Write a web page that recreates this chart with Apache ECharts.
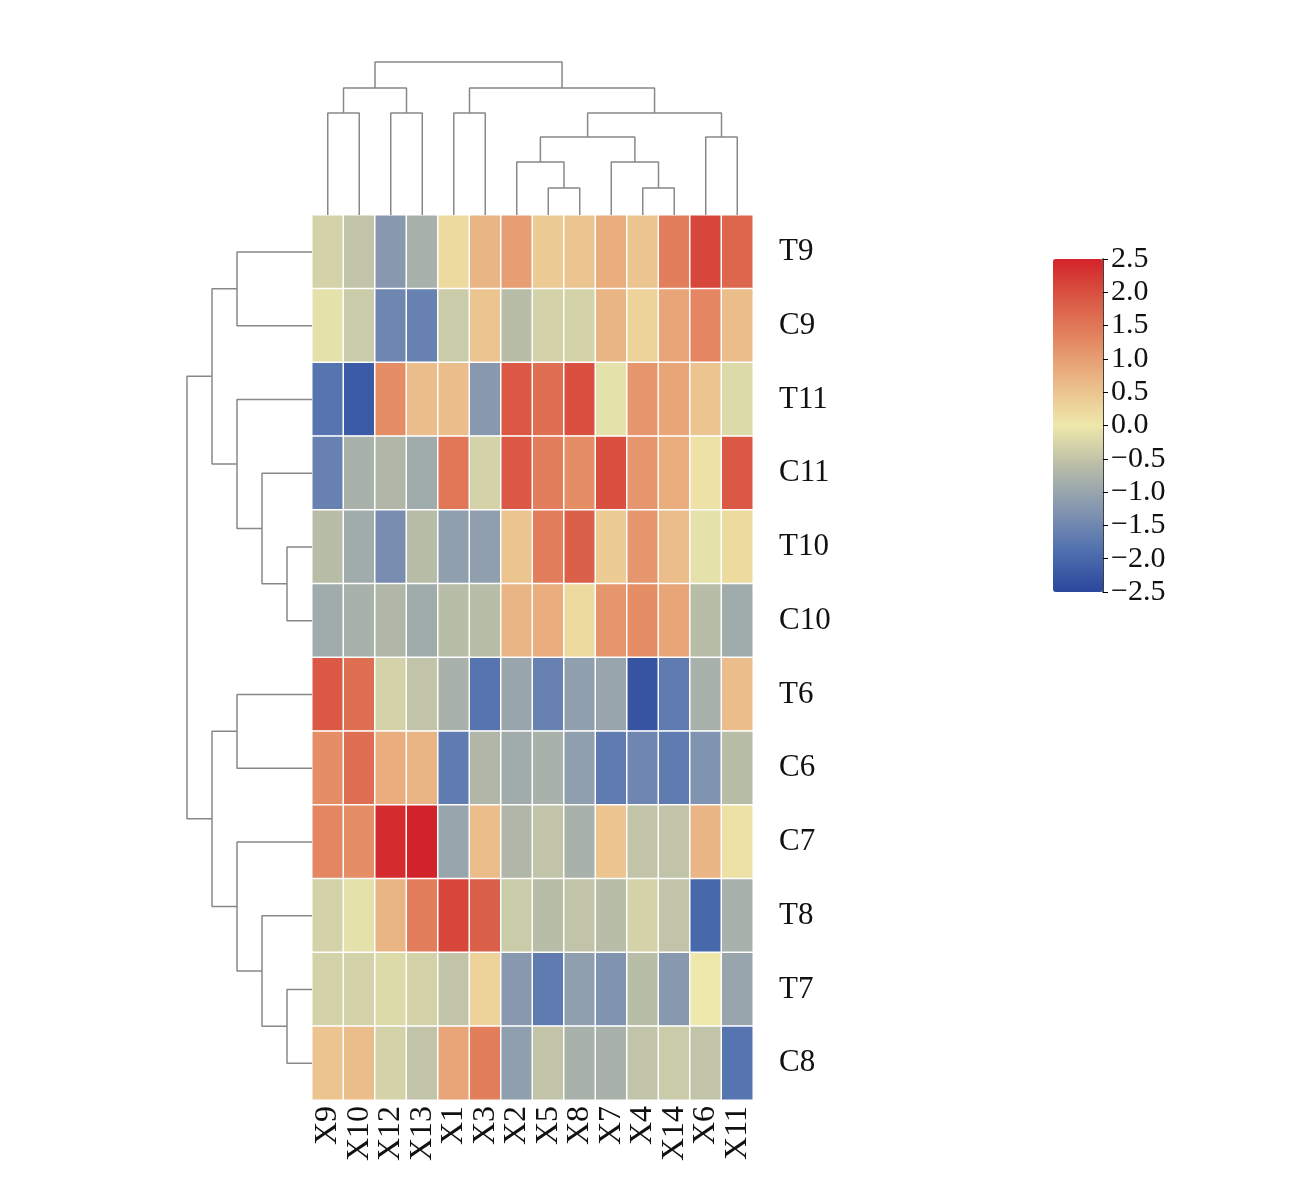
<!DOCTYPE html>
<html><head><meta charset="utf-8">
<script src="https://cdn.jsdelivr.net/npm/echarts@6/dist/echarts.min.js"></script>
<style>html,body{margin:0;background:#fff}#c{width:1316px;height:1197px}</style>
</head><body><div id="c"></div>
<script>
const cols = ['X9','X10','X12','X13','X1','X3','X2','X5','X8','X7','X4','X14','X6','X11'];
const rows = ['T9','C9','T11','C11','T10','C10','T6','C6','C7','T8','T7','C8'];
const values = [
 [-0.3,-0.5,-1.2,-0.8,0.2,0.7,1.0,0.4,0.5,0.8,0.5,1.4,2.1,1.7],
 [-0.1,-0.4,-1.5,-1.6,-0.4,0.5,-0.6,-0.3,-0.3,0.7,0.3,0.9,1.3,0.6],
 [-1.8,-2.2,1.2,0.6,0.6,-1.2,1.9,1.6,2.0,-0.1,1.1,0.9,0.5,-0.2],
 [-1.6,-0.8,-0.7,-0.9,1.5,-0.3,1.9,1.4,1.2,2.0,1.1,0.8,0.1,1.9],
 [-0.6,-0.9,-1.4,-0.6,-1.1,-1.1,0.5,1.4,1.8,0.4,1.1,0.6,-0.1,0.2],
 [-0.9,-0.8,-0.7,-0.9,-0.6,-0.6,0.7,0.8,0.2,1.1,1.2,0.9,-0.6,-0.9],
 [1.9,1.6,-0.3,-0.5,-0.8,-1.8,-1.0,-1.6,-1.1,-1.0,-2.3,-1.7,-0.8,0.6],
 [1.2,1.6,0.8,0.7,-1.7,-0.7,-0.9,-0.8,-1.1,-1.7,-1.5,-1.7,-1.3,-0.6],
 [1.3,1.2,2.4,2.5,-1.0,0.6,-0.7,-0.5,-0.8,0.5,-0.5,-0.5,0.7,0.1],
 [-0.3,-0.1,0.7,1.4,2.1,1.8,-0.4,-0.6,-0.5,-0.6,-0.3,-0.5,-2.0,-0.8],
 [-0.3,-0.3,-0.2,-0.3,-0.5,0.3,-1.2,-1.7,-1.1,-1.3,-0.6,-1.2,0.0,-1.0],
 [0.5,0.6,-0.3,-0.5,0.9,1.4,-1.1,-0.5,-0.8,-0.8,-0.5,-0.4,-0.5,-1.8]
];
const colMerges = [[0,1,102],[2,3,102],[14,15,127],[4,5,102],[7,8,27],[6,18,53],[10,11,27],[9,20,53],[19,21,78],[12,13,78],[22,23,102],[17,24,127],[16,25,153]];
const rowMerges = [[0,1,75],[4,5,25],[3,13,50],[2,14,75],[12,15,100],[6,7,75],[10,11,25],[9,18,50],[8,19,75],[17,20,100],[16,21,125]];

function dendro(n, merges){
  const pos=[], h=[];
  for(let i=0;i<n;i++){pos.push(i+0.5);h.push(0);}
  const segs=[];
  merges.forEach(([a,b,ht])=>{
    segs.push([pos[a],h[a]],[pos[a],ht],[pos[b],ht],[pos[b],h[b]],null);
    pos.push((pos[a]+pos[b])/2); h.push(ht);
  });
  return segs;
}
const topSegs = dendro(cols.length, colMerges).map(p=>p?p:[null,null]);
const leftSegs = dendro(rows.length, rowMerges).map(p=>p?[p[1],p[0]]:[null,null]);
const heat=[];
rows.forEach((r,i)=>cols.forEach((c,j)=>heat.push([j,i,values[i][j]])));
const font='Liberation Serif';
const chart=echarts.init(document.getElementById('c'));
chart.setOption({
  animation:false,
  grid:[
    {left:312,top:215,width:441,height:885},
    {left:312,top:60,width:441,height:155},
    {left:185,top:215,width:127,height:885},
    {left:1053,top:259,width:50,height:333}
  ],
  xAxis:[
    {type:'category',data:cols,gridIndex:0,position:'bottom',axisLine:{show:false},axisTick:{show:false},
     axisLabel:{interval:0,rotate:90,fontFamily:font,fontSize:32,color:'#111',margin:6}},
    {type:'value',gridIndex:1,min:0,max:14,show:false},
    {type:'value',gridIndex:2,min:0,max:127,inverse:true,show:false},
    {type:'value',gridIndex:3,min:0,max:1,show:false}
  ],
  yAxis:[
    {type:'category',data:rows,gridIndex:0,inverse:true,position:'right',axisLine:{show:false},axisTick:{show:false},
     axisLabel:{fontFamily:font,fontSize:31,color:'#111',margin:26}},
    {type:'value',gridIndex:1,min:0,max:155,show:false},
    {type:'value',gridIndex:2,min:0,max:12,inverse:true,show:false},
    {type:'value',gridIndex:3,min:-2.5,max:2.5,interval:0.5,position:'right',splitLine:{show:false},
     axisLine:{show:true,onZero:false,lineStyle:{color:'#000',width:1.5}},axisTick:{show:true,length:5,lineStyle:{color:'#000'}},
     axisLabel:{fontFamily:font,fontSize:30,color:'#111',margin:8,formatter:v=>(v<0?'\u2212':'')+Math.abs(v).toFixed(1)}}
  ],
  visualMap:{type:'continuous',min:-2.5,max:2.5,seriesIndex:0,left:1038,top:244,itemWidth:50,itemHeight:333,
    calculable:false,showLabel:false,text:['',''],
    inRange:{color:['#2a479c','#5070b0','#8496b0','#b6bba7','#eee8aa','#ebbb89','#e48a63','#da5a45','#d3232a']}},
  series:[
    {type:'heatmap',xAxisIndex:0,yAxisIndex:0,data:heat,itemStyle:{borderColor:'#fff',borderWidth:1.5}},
    {type:'line',xAxisIndex:1,yAxisIndex:1,data:topSegs,symbol:'none',connectNulls:false,lineStyle:{color:'#888',width:1.5}},
    {type:'line',xAxisIndex:2,yAxisIndex:2,data:leftSegs,symbol:'none',connectNulls:false,lineStyle:{color:'#888',width:1.5}}
  ]
});
</script></body></html>
